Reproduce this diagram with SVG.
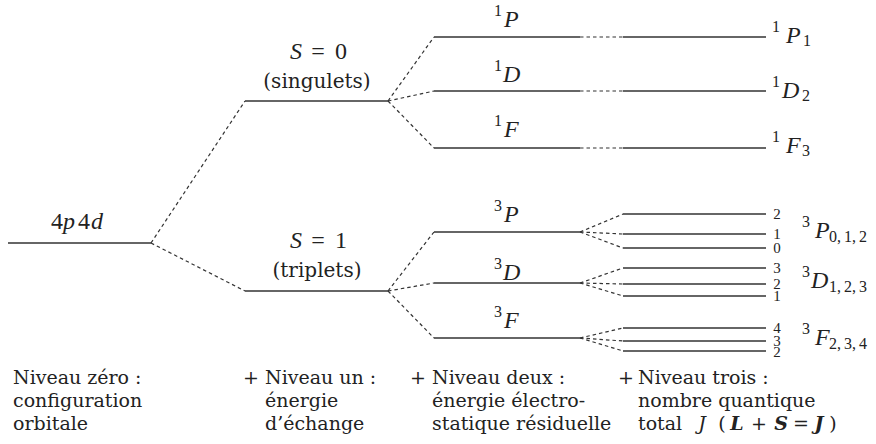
<svg xmlns="http://www.w3.org/2000/svg" width="876" height="444" viewBox="0 0 876 444">
<style>
  text { font-family: "DejaVu Serif", "Liberation Serif", serif; fill: #222; }
  .t { font-size: 19px; }
  .p { font-size: 20px; }
  .m { font-family: "Liberation Serif", serif; font-size: 24px; }
  .c { text-anchor: middle; }
  .i { font-style: italic; }
  .b { font-weight: bold; font-style: italic; }
  .s { font-family: "Liberation Serif", serif; font-size: 16px; font-style: normal; }
  .j { font-family: "Liberation Serif", serif; font-size: 15px; text-anchor: middle; }
  .lv { stroke: #333; stroke-width: 1.4; fill: none; }
  .dl { stroke: #333; stroke-width: 1.2; fill: none; stroke-dasharray: 3.5 3; }
</style>
<rect width="876" height="444" fill="#fff"/>

<g id="connectors">
  <line class="dl" x1="151" y1="243" x2="245" y2="101"/>
  <line class="dl" x1="151" y1="243" x2="245" y2="291"/>
  <line class="dl" x1="388" y1="101" x2="434" y2="37"/>
  <line class="dl" x1="388" y1="101" x2="434" y2="91"/>
  <line class="dl" x1="388" y1="101" x2="434" y2="148"/>
  <line class="dl" x1="388" y1="291" x2="434" y2="232"/>
  <line class="dl" x1="388" y1="291" x2="434" y2="283"/>
  <line class="dl" x1="388" y1="291" x2="434" y2="338"/>
  <line class="dl" x1="580" y1="37" x2="623" y2="37"/>
  <line class="dl" x1="580" y1="91" x2="623" y2="91"/>
  <line class="dl" x1="580" y1="148" x2="623" y2="148"/>
  <line class="dl" x1="580" y1="232" x2="623" y2="214"/>
  <line class="dl" x1="580" y1="232" x2="623" y2="234"/>
  <line class="dl" x1="580" y1="232" x2="623" y2="248"/>
  <line class="dl" x1="580" y1="283" x2="623" y2="268"/>
  <line class="dl" x1="580" y1="283" x2="623" y2="284"/>
  <line class="dl" x1="580" y1="283" x2="623" y2="296"/>
  <line class="dl" x1="580" y1="338" x2="623" y2="328"/>
  <line class="dl" x1="580" y1="338" x2="623" y2="341"/>
  <line class="dl" x1="580" y1="338" x2="623" y2="351"/>
</g>

<g id="config">
  <line class="lv" x1="8" y1="243" x2="151" y2="243"/>
  <text class="m c" y="229"><tspan x="57">4</tspan><tspan class="i" x="69">p</tspan><tspan x="84">4</tspan><tspan class="i" x="97">d</tspan></text>
</g>

<g id="S0">
  <line class="lv" x1="245" y1="101" x2="388" y2="101"/>
  <text class="m c" y="59"><tspan class="i" x="296">S</tspan><tspan x="318">=</tspan><tspan x="341">0</tspan></text>
  <text class="p" x="317" y="88" text-anchor="middle">(singulets)</text>
</g>

<g id="S1">
  <line class="lv" x1="245" y1="291" x2="388" y2="291"/>
  <text class="m c" y="248"><tspan class="i" x="296">S</tspan><tspan x="318">=</tspan><tspan x="341">1</tspan></text>
  <text class="p" x="317" y="277" text-anchor="middle">(triplets)</text>
</g>

<g id="1P">
  <line class="lv" x1="434" y1="37" x2="580" y2="37"/>
  <line class="lv" x1="623" y1="37" x2="766" y2="37"/>
  <text class="m" y="27"><tspan class="s" x="494" dy="-11">1</tspan><tspan class="i" x="504" dy="11">P</tspan></text>
  <text class="m" y="43"><tspan class="s" x="772" dy="-11">1</tspan><tspan class="i" x="786" dy="11">P</tspan><tspan class="s" x="803" dy="3">1</tspan></text>
</g>

<g id="1D">
  <line class="lv" x1="434" y1="91" x2="580" y2="91"/>
  <line class="lv" x1="623" y1="91" x2="766" y2="91"/>
  <text class="m" y="82"><tspan class="s" x="494" dy="-11">1</tspan><tspan class="i" x="503" dy="11">D</tspan></text>
  <text class="m" y="98"><tspan class="s" x="772" dy="-11">1</tspan><tspan class="i" x="782" dy="11">D</tspan><tspan class="s" x="802" dy="3">2</tspan></text>
</g>

<g id="1F">
  <line class="lv" x1="434" y1="148" x2="580" y2="148"/>
  <line class="lv" x1="623" y1="148" x2="766" y2="148"/>
  <text class="m" y="137"><tspan class="s" x="494" dy="-11">1</tspan><tspan class="i" x="504" dy="11">F</tspan></text>
  <text class="m" y="153"><tspan class="s" x="772" dy="-11">1</tspan><tspan class="i" x="786" dy="11">F</tspan><tspan class="s" x="802" dy="3">3</tspan></text>
</g>

<g id="3P">
  <line class="lv" x1="434" y1="232" x2="580" y2="232"/>
  <text class="m" y="222"><tspan class="s" x="494" dy="-11">3</tspan><tspan class="i" x="504" dy="11">P</tspan></text>
  <line class="lv" x1="623" y1="214" x2="766" y2="214"/>
  <line class="lv" x1="623" y1="234" x2="766" y2="234"/>
  <line class="lv" x1="623" y1="248" x2="766" y2="248"/>
  <text class="j" x="777" y="219">2</text>
  <text class="j" x="777" y="239">1</text>
  <text class="j" x="777" y="253">0</text>
  <text class="m" y="238"><tspan class="s" x="802" dy="-11">3</tspan><tspan class="i" x="815" dy="11">P</tspan><tspan class="s" x="829" dy="4">0,</tspan><tspan class="s" x="844">1,</tspan><tspan class="s" x="859">2</tspan></text>
</g>

<g id="3D">
  <line class="lv" x1="434" y1="283" x2="580" y2="283"/>
  <text class="m" y="280"><tspan class="s" x="494" dy="-11">3</tspan><tspan class="i" x="503" dy="11">D</tspan></text>
  <line class="lv" x1="623" y1="268" x2="766" y2="268"/>
  <line class="lv" x1="623" y1="284" x2="766" y2="284"/>
  <line class="lv" x1="623" y1="296" x2="766" y2="296"/>
  <text class="j" x="777" y="273">3</text>
  <text class="j" x="777" y="289">2</text>
  <text class="j" x="777" y="301">1</text>
  <text class="m" y="288"><tspan class="s" x="802" dy="-11">3</tspan><tspan class="i" x="811" dy="11">D</tspan><tspan class="s" x="829" dy="4">1,</tspan><tspan class="s" x="844">2,</tspan><tspan class="s" x="859">3</tspan></text>
</g>

<g id="3F">
  <line class="lv" x1="434" y1="338" x2="580" y2="338"/>
  <text class="m" y="328"><tspan class="s" x="494" dy="-11">3</tspan><tspan class="i" x="504" dy="11">F</tspan></text>
  <line class="lv" x1="623" y1="328" x2="766" y2="328"/>
  <line class="lv" x1="623" y1="341" x2="766" y2="341"/>
  <line class="lv" x1="623" y1="351" x2="766" y2="351"/>
  <text class="j" x="777" y="333">4</text>
  <text class="j" x="777" y="346">3</text>
  <text class="j" x="777" y="357">2</text>
  <text class="m" y="345"><tspan class="s" x="802" dy="-11">3</tspan><tspan class="i" x="815" dy="11">F</tspan><tspan class="s" x="829" dy="4">2,</tspan><tspan class="s" x="844">3,</tspan><tspan class="s" x="859">4</tspan></text>
</g>

<g id="legend">
  <text class="t" x="13" y="384">Niveau zéro :</text>
  <text class="t" x="13" y="407">configuration</text>
  <text class="t" x="13" y="430">orbitale</text>

  <text class="t" x="243" y="384">+</text>
  <text class="t" x="265" y="384">Niveau un :</text>
  <text class="t" x="265" y="407">énergie</text>
  <text class="t" x="265" y="430">d’échange</text>

  <text class="t" x="410" y="384">+</text>
  <text class="t" x="432" y="384">Niveau deux :</text>
  <text class="t" x="432" y="407">énergie électro-</text>
  <text class="t" x="432" y="430">statique résiduelle</text>

  <text class="t" x="618" y="384">+</text>
  <text class="t" x="638" y="384">Niveau trois :</text>
  <text class="t" x="638" y="407">nombre quantique</text>
  <text class="t" x="638" y="430">total</text>
  <text class="t c" y="430"><tspan class="i" x="702">J</tspan><tspan x="722">(</tspan><tspan class="b" x="737">L</tspan><tspan x="759">+</tspan><tspan class="b" x="781">S</tspan><tspan x="801">=</tspan><tspan class="b" x="819">J</tspan><tspan x="833">)</tspan></text>
</g>
</svg>
